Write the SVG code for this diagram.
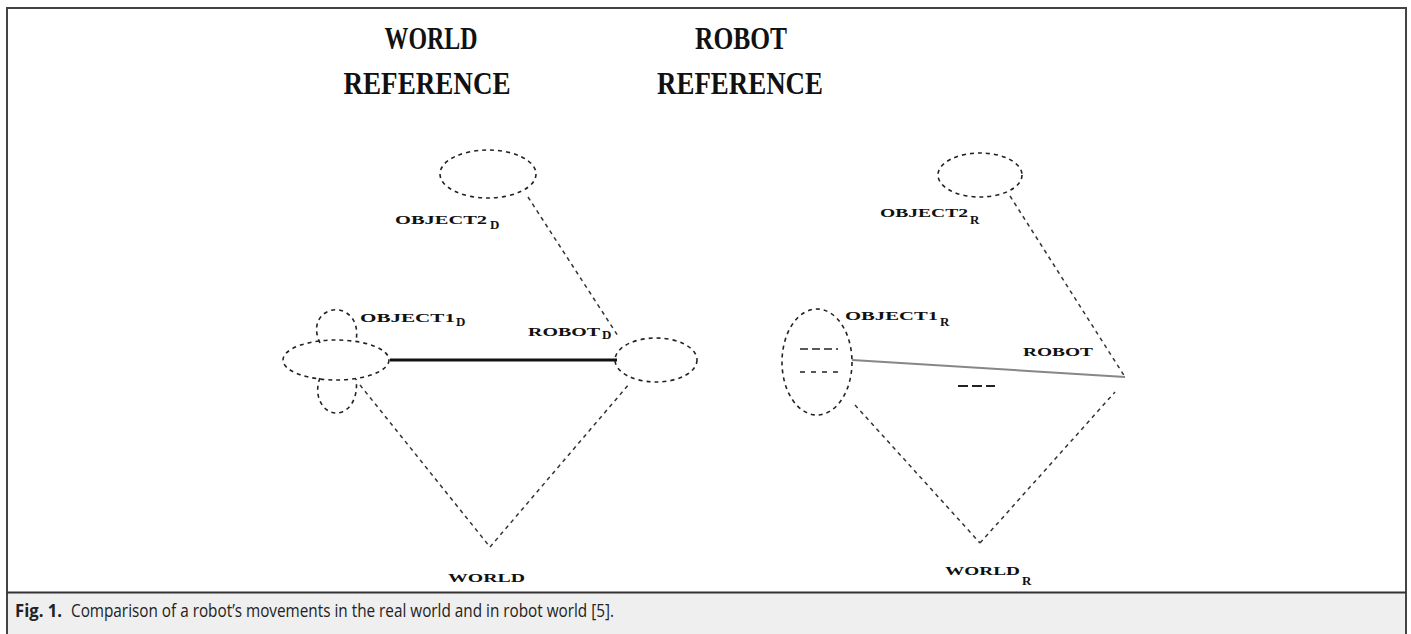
<svg xmlns="http://www.w3.org/2000/svg" width="1411" height="634" viewBox="0 0 1411 634">
<style>
.node{fill:none;stroke:#222;stroke-width:1.6;stroke-dasharray:4 4}
.dash{fill:none;stroke:#333;stroke-width:1.5;stroke-dasharray:4 4}
.lbl{font-family:"Liberation Serif",serif;font-weight:bold;font-size:13px;fill:#111}
.sub{font-family:"Liberation Serif",serif;font-weight:bold;font-size:13px;fill:#111}
.title{font-family:"Liberation Serif",serif;font-weight:bold;font-size:32px;fill:#111;text-anchor:middle}
.cap{font-family:"Open Sans","Liberation Sans",sans-serif;font-size:18px;fill:#222}
</style>
<rect x="0" y="0" width="1411" height="634" fill="#fff"/>
<rect x="7" y="8" width="1399" height="630" fill="none" stroke="#444" stroke-width="2"/>
<rect x="8" y="593" width="1397" height="41" fill="#efefef"/>
<line x1="7" y1="592.5" x2="1406" y2="592.5" stroke="#333" stroke-width="2"/>

<g id="titles">
<text class="title" x="431" y="49" textLength="93" lengthAdjust="spacingAndGlyphs">WORLD</text>
<text class="title" x="427" y="94" textLength="167" lengthAdjust="spacingAndGlyphs">REFERENCE</text>
<text class="title" x="741" y="49" textLength="92" lengthAdjust="spacingAndGlyphs">ROBOT</text>
<text class="title" x="740" y="94" textLength="166" lengthAdjust="spacingAndGlyphs">REFERENCE</text>
</g>

<g id="connectors">
<line x1="390" y1="360" x2="617" y2="360" stroke="#111" stroke-width="3"/>
<line class="dash" x1="528" y1="197" x2="618" y2="336"/>
<line class="dash" x1="360" y1="385" x2="490" y2="547"/>
<line class="dash" x1="490" y1="547" x2="630" y2="383"/>
<line x1="852" y1="360" x2="1125" y2="377" stroke="#555" stroke-width="2" opacity="0.7"/>
<line x1="958" y1="386" x2="995" y2="386" stroke="#222" stroke-width="2" stroke-dasharray="10 4"/>
<line class="dash" x1="1010" y1="196" x2="1125" y2="377"/>
<line class="dash" x1="855" y1="405" x2="980" y2="543"/>
<line class="dash" x1="980" y1="543" x2="1115" y2="392"/>
</g>

<g id="object2-d">
<ellipse class="node" cx="488" cy="174" rx="48" ry="24"/>
<text class="lbl" x="395" y="224" textLength="92" lengthAdjust="spacingAndGlyphs">OBJECT2</text>
<text class="sub" x="490" y="229">D</text>
</g>
<g id="robot-d">
<ellipse class="node" cx="656" cy="360" rx="41" ry="22"/>
<text class="lbl" x="528" y="336" textLength="72" lengthAdjust="spacingAndGlyphs">ROBOT</text>
<text class="sub" x="602" y="339">D</text>
</g>
<g id="object1-d">
<ellipse class="node" cx="336" cy="360" rx="53" ry="20"/>
<path class="node" d="M320 343 C308 318 330 304 345 312 C356 318 358 330 356 341"/>
<path class="node" d="M320 378 C312 398 326 418 342 412 C354 407 358 392 356 379"/>
<text class="lbl" x="360" y="322" textLength="95" lengthAdjust="spacingAndGlyphs">OBJECT1</text>
<text class="sub" x="456" y="326">D</text>
</g>
<g id="world">
<text class="lbl" x="448" y="582" textLength="77" lengthAdjust="spacingAndGlyphs">WORLD</text>
</g>

<g id="object2-r">
<ellipse class="node" cx="980" cy="175" rx="42" ry="22"/>
<text class="lbl" x="880" y="217" textLength="88" lengthAdjust="spacingAndGlyphs">OBJECT2</text>
<text class="sub" x="970" y="224">R</text>
</g>
<g id="object1-r">
<ellipse class="node" cx="817" cy="362" rx="35" ry="53"/>
<line x1="800" y1="349" x2="838" y2="349" stroke="#222" stroke-width="1.6" stroke-dasharray="8 4"/>
<line x1="800" y1="372" x2="840" y2="372" stroke="#222" stroke-width="1.6" stroke-dasharray="5 6"/>
<text class="lbl" x="845" y="320" textLength="93" lengthAdjust="spacingAndGlyphs">OBJECT1</text>
<text class="sub" x="940" y="326">R</text>
</g>
<g id="robot-r">
<text class="lbl" x="1023" y="356" textLength="70" lengthAdjust="spacingAndGlyphs">ROBOT</text>
</g>
<g id="world-r">
<text class="lbl" x="945" y="575" textLength="75" lengthAdjust="spacingAndGlyphs">WORLD</text>
<text class="sub" x="1022" y="585">R</text>
</g>

<g id="caption">
<text class="cap" x="15" y="617" font-weight="bold" textLength="47" lengthAdjust="spacingAndGlyphs">Fig. 1.</text>
<text class="cap" x="71" y="617" textLength="543" lengthAdjust="spacingAndGlyphs">Comparison of a robot’s movements in the real world and in robot world [5].</text>
</g>
</svg>
